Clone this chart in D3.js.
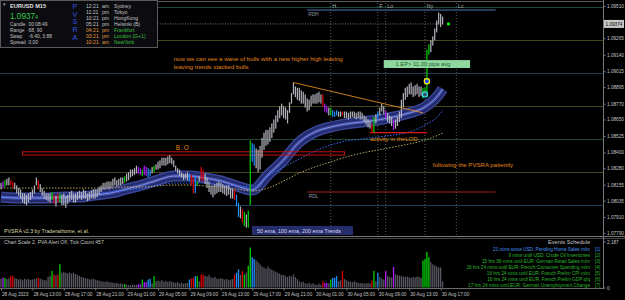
<!DOCTYPE html>
<html>
<head>
<meta charset="utf-8">
<script src="https://cdn.jsdelivr.net/npm/d3@7/dist/d3.min.js"></script>
<style>
body{margin:0;background:#000;}
svg{display:block;font-family:"Liberation Sans",Arial,sans-serif;}
</style>
</head>
<body>
<div id="container"></div>
<script>
let w=625;
let h=300;

// EURUSD M15, one entry per bar from 28 Aug 09:00 to 30 Aug 17:15
let highs=[
1.0817,1.0818,1.0819,1.0820,1.0821,1.0819,1.0818,1.0817,
1.0815,1.0813,1.0812,1.0809,1.0809,1.0808,1.0809,1.0810,
1.0812,1.0815,1.0821,1.0819,1.0816,1.0813,1.0811,1.0809,
1.0809,1.0809,1.0810,1.0808,1.0807,1.0809,1.0809,1.0808,
1.0809,1.0807,1.0808,1.0810,1.0811,1.0809,1.0809,1.0810,
1.0811,1.0810,1.0812,1.0811,1.0809,1.0810,1.0811,1.0812,
1.0812,1.0812,1.0814,1.0815,1.0817,1.0817,1.0818,1.0818,
1.0818,1.0820,1.0821,1.0819,1.0820,1.0821,1.0821,1.0822,
1.0824,1.0825,1.0827,1.0827,1.0828,1.0830,1.0829,1.0828,
1.0827,1.0830,1.0829,1.0828,1.0827,1.0829,1.0830,1.0831,
1.0833,1.0834,1.0836,1.0836,1.0836,1.0837,1.0838,1.0836,
1.0834,1.0830,1.0828,1.0827,1.0825,1.0824,1.0824,1.0825,
1.0824,1.0823,1.0821,1.0822,1.0818,1.0822,1.0829,1.0827,
1.0824,1.0821,1.0818,1.0815,1.0815,1.0816,1.0817,1.0818,
1.0817,1.0816,1.0815,1.0815,1.0815,1.0813,1.0812,1.0812,
1.0808,1.0802,1.0799,1.0797,1.0795,1.0793,1.0796,1.0849,
1.0847,1.0846,1.0843,1.0842,1.0845,1.0851,1.0855,1.0857,
1.0857,1.0859,1.0862,1.0865,1.0868,1.0872,1.0875,1.0877,
1.0875,1.0874,1.0872,1.0878,1.0885,1.0893,1.0890,1.0889,
1.0889,1.0887,1.0886,1.0884,1.0881,1.0880,1.0883,1.0884,
1.0884,1.0885,1.0886,1.0884,1.0884,1.0877,1.0875,1.0874,
1.0874,1.0872,1.0871,1.0872,1.0871,1.0871,1.0871,1.0871,
1.0871,1.0870,1.0871,1.0871,1.0871,1.0870,1.0871,1.0871,
1.0870,1.0868,1.0867,1.0865,1.0864,1.0862,1.0867,1.0869,
1.0871,1.0874,1.0877,1.0875,1.0872,1.0870,1.0868,1.0867,
1.0865,1.0865,1.0867,1.0871,1.0880,1.0885,1.0889,1.0890,
1.0892,1.0893,1.0890,1.0891,1.0892,1.0890,1.0890,1.0889,
1.0889,1.0918,1.0922,1.0925,1.0928,1.0934,1.0940,1.0946,1.0945,1.0943];
let lows=[
1.0812,1.0813,1.0814,1.0815,1.0815,1.0815,1.0813,1.0812,
1.0809,1.0807,1.0805,1.0802,1.0801,1.0800,1.0802,1.0804,
1.0806,1.0809,1.0815,1.0812,1.0810,1.0807,1.0805,1.0804,
1.0803,1.0802,1.0804,1.0801,1.0799,1.0802,1.0802,1.0800,
1.0800,1.0798,1.0801,1.0803,1.0804,1.0802,1.0802,1.0804,
1.0805,1.0804,1.0805,1.0805,1.0803,1.0804,1.0805,1.0805,
1.0805,1.0806,1.0808,1.0810,1.0812,1.0812,1.0813,1.0812,
1.0813,1.0814,1.0815,1.0814,1.0815,1.0815,1.0816,1.0817,
1.0818,1.0819,1.0821,1.0822,1.0823,1.0824,1.0824,1.0823,
1.0822,1.0823,1.0822,1.0821,1.0822,1.0824,1.0825,1.0827,
1.0827,1.0828,1.0830,1.0830,1.0830,1.0831,1.0832,1.0831,
1.0829,1.0826,1.0824,1.0822,1.0821,1.0819,1.0820,1.0819,
1.0818,1.0815,1.0809,1.0809,1.0815,1.0818,1.0819,1.0818,
1.0816,1.0813,1.0810,1.0808,1.0806,1.0808,1.0809,1.0810,
1.0810,1.0809,1.0808,1.0807,1.0808,1.0805,1.0805,1.0804,
1.0799,1.0791,1.0790,1.0787,1.0784,1.0783,1.0783,1.0800,
1.0833,1.0830,1.0828,1.0825,1.0827,1.0836,1.0842,1.0845,
1.0846,1.0848,1.0851,1.0855,1.0858,1.0863,1.0866,1.0868,
1.0866,1.0865,1.0862,1.0870,1.0877,1.0884,1.0882,1.0880,
1.0879,1.0877,1.0877,1.0874,1.0871,1.0872,1.0875,1.0877,
1.0877,1.0877,1.0878,1.0877,1.0875,1.0871,1.0870,1.0868,
1.0868,1.0867,1.0867,1.0868,1.0867,1.0867,1.0868,1.0866,
1.0866,1.0865,1.0866,1.0867,1.0866,1.0865,1.0866,1.0865,
1.0865,1.0863,1.0861,1.0859,1.0858,1.0855,1.0855,1.0862,
1.0866,1.0868,1.0871,1.0869,1.0866,1.0863,1.0862,1.0860,
1.0857,1.0858,1.0860,1.0863,1.0866,1.0874,1.0880,1.0882,
1.0884,1.0884,1.0882,1.0883,1.0884,1.0882,1.0883,1.0881,
1.0882,1.0882,1.0914,1.0916,1.0921,1.0925,1.0931,1.0937,1.0935,1.0937];
let volumes=[
420,470,450,400,430,540,560,450,
420,380,400,350,420,380,400,360,
380,400,430,460,420,380,360,340,
500,560,790,620,580,620,1110,700,
750,700,680,720,650,700,640,600,
550,500,480,450,420,400,380,420,
380,350,330,300,280,260,300,250,
250,230,200,220,180,200,170,160,
130,120,110,140,120,130,160,150,
380,260,250,380,420,200,540,300,
330,300,350,280,320,260,300,280,
250,220,260,200,230,180,200,220,
380,420,460,540,540,300,620,620,
560,520,600,480,450,500,420,400,
450,420,380,400,350,380,400,620,
700,870,600,790,620,700,1030,1900,
1440,1360,1280,1200,1100,1000,950,900,
1000,900,850,800,750,700,650,600,
600,550,500,560,520,620,500,400,
300,250,280,200,180,220,150,200,
150,120,180,130,300,220,220,200,
380,460,460,540,300,350,790,400,
350,300,280,250,300,260,220,200,
220,180,200,210,190,330,790,300,
700,500,420,380,790,560,500,480,
980,620,600,560,540,520,500,520,
480,460,500,480,520,500,460,1280,
1360,1690,1440,1200,1100,1050,1000,950,950,290];

// PVSRA bar classes (bar index)
let climaxBull=[2,26,30,63,72,78,100,124,126,127,168,190,215,216,217,218];
let climaxBear=[5,6,19,27,29,97,98,102,103,119,123,164,174,189];
let risingBull=[75,76,96,99,120,121,128,129,169,170,171,192];
let risingBear=[1,70,71,73,74,165,166,196,200];

// moving averages read every 8 bars
let emaAt=[0,8,16,24,32,40,48,56,64,72,80,88,96,104,112,120,128,136,144,152,160,168,176,184,192,200,208,216,224,225];
let ema50=[1.08062,1.08055,1.08055,1.08055,1.08062,1.08062,1.08077,1.08093,1.08123,1.08153,1.08191,1.08221,1.08221,1.08206,1.08184,1.08146,1.08115,1.08229,1.08343,1.08479,1.08555,1.08593,1.08616,1.08631,1.08646,1.08669,1.08699,1.08744,1.08858,1.08881];
let ema100=[1.08062,1.08062,1.08062,1.08062,1.08070,1.08077,1.08085,1.08100,1.08115,1.08130,1.08153,1.08168,1.08168,1.08168,1.08153,1.08146,1.08138,1.08221,1.08290,1.08350,1.08411,1.08456,1.08487,1.08502,1.08517,1.08532,1.08555,1.08608,1.08699,1.08722];
let ema200=[1.08130,1.08130,1.08130,1.08130,1.08130,1.08130,1.08130,1.08130,1.08138,1.08138,1.08146,1.08153,1.08153,1.08146,1.08138,1.08123,1.08108,1.08130,1.08184,1.08244,1.08290,1.08328,1.08366,1.08396,1.08418,1.08441,1.08464,1.08494,1.08540,1.08547];

let priceTicks=[1.09510,1.09265,1.09140,1.09015,1.08895,1.08770,1.08650,1.08525,1.08400,1.08280,1.08155,1.08035,1.07910,1.07790];
let levels=[1.0950,1.0925,1.0900,1.0875,1.0850,1.0825,1.0800];
let timeIdx=[0,16,32,48,64,80,96,112,128,144,160,176,192,208,224];
let timeLabels=["28 Aug 2023","28 Aug 13:00","28 Aug 17:00","28 Aug 21:00","29 Aug 01:00","29 Aug 05:00","29 Aug 09:00","29 Aug 13:00","29 Aug 17:00","29 Aug 21:00","30 Aug 01:00","30 Aug 05:00","30 Aug 09:00","30 Aug 13:00","30 Aug 17:00"];
let sessions=[["H",168],["F",192],["Lo",196],["Ny",216],["Lc",232]];
let lastPrice=1.09374;
let volMax=2187;
let rdh=1.0948, rdl=1.0810, rdFrom=156, rdTo=252;
let lod=1.0855, lodFrom=188, lodTo=217;
let boBox=[11,175,1.08405,1.08380];
let trend=[[149,1.0893],[215,1.0870]];
let entryMarks=[[216,1.0884,"#30e0f0","#405060"],[217,1.0894,"#ffff00","#2040ff"]];
let notes=[
 [88,1.09093,"now we can see a wave of bulls with a new higher high leaving"],
 [88,1.09032,"leaving trends stacked bulls"],
 [188,1.08483,"activity in theLOD"],
 [220,1.08290,"following the PVSRA patiently"]];
let clocks=[["12:21","am","Sydney"],["11:21","pm","Tokyo"],["10:21","pm","HongKong"],["05:21","pm","Helsinki (B)"],["04:21","pm","Frankfurt"],["03:21","pm","London (G+1)"],["10:21","am","NewYork"]];
let infoRows=[["Candle","00:08:49"],["Range","68, 90"],["Swap","-6.40, 3.88"],["Spread","0.00"]];
let events=[
 "21 mins since USD: Pending Home Sales m/m",
 "9 mins until USD: Crude Oil Inventories",
 "15 hrs 39 mins until EUR: German Retail Sales m/m",
 "16 hrs 24 mins until EUR: French Consumer Spending m/m",
 "16 hrs 24 mins until EUR: French Prelim CPI m/m",
 "16 hrs 24 mins until EUR: French Prelim GDP q/q",
 "17 hrs 24 mins until EUR: German Unemployment Change"];

let x=d3.scaleLinear().domain([0,225]).range([1,442.6]);
let y=d3.scaleLinear().domain([1.0779,1.0951]).range([232.9,6]);
let yv=d3.scaleLinear().domain([0,volMax]).range([287.5,241.5]);

function barColor(i,normal){
  if(climaxBull.includes(i)) return "#00d000";
  if(climaxBear.includes(i)) return "#e00000";
  if(risingBull.includes(i)) return "#1e90ff";
  if(risingBear.includes(i)) return "#b020ff";
  return normal;
}
function levelColor(d){
  let q=Math.round(d*10000)%100;
  if(q==0) return "#1e3a58";
  if(q==50) return "#1f4a36";
  return "#48461e";
}

let viz=d3.select("#container").append("svg")
  .attr("width",w).attr("height",h);
viz.append("rect").attr("width",w).attr("height",h).attr("fill","#000");

// quarter levels
viz.selectAll(".level").data(levels).enter().append("line")
  .attr("x1",0).attr("x2",603)
  .attr("y1",d=>y(d)).attr("y2",d=>y(d))
  .attr("stroke",levelColor).attr("shape-rendering","crispEdges");
viz.append("line").attr("x1",0).attr("x2",603).attr("y1",1.5).attr("y2",1.5)
  .attr("stroke","#5a5a5a");

// session lines
viz.selectAll(".sess").data(sessions).enter().append("line")
  .attr("x1",d=>x(d[1])).attr("x2",d=>x(d[1]))
  .attr("y1",3).attr("y2",236)
  .attr("stroke","#5c5c5c").attr("stroke-dasharray","1,2");
viz.selectAll(".sessLabel").data(sessions).enter().append("text")
  .text(d=>d[0])
  .attr("x",d=>x(d[1])+1.5).attr("y",7.5)
  .attr("font-size",5.5).attr("fill","#a8a8a8");

// RDH / RDL
viz.append("line").attr("x1",x(rdFrom)).attr("x2",x(rdTo)).attr("y1",y(rdh)).attr("y2",y(rdh))
  .attr("stroke","#34507a").attr("stroke-width",1.5);
viz.append("text").text("RDH").attr("x",x(rdFrom)+1).attr("y",y(rdh)+6)
  .attr("font-size",4.8).attr("fill","#9098a0");
viz.append("line").attr("x1",x(rdFrom)).attr("x2",x(rdTo)).attr("y1",y(rdl)).attr("y2",y(rdl))
  .attr("stroke","#9a2424").attr("stroke-width",1);
viz.append("text").text("RDL").attr("x",x(rdFrom)+1.5).attr("y",y(rdl)+5.5)
  .attr("font-size",4.8).attr("fill","#9098a0");

// ema ribbon
let maLine=d3.line().x(d=>x(d[0])).y(d=>y(d[1])).curve(d3.curveMonotoneX);
let e50=d3.zip(emaAt,ema50);
viz.append("path").attr("d",maLine(e50)).attr("fill","none")
  .attr("stroke","#3a4698").attr("stroke-width",11);
viz.append("path").attr("d",maLine(e50)).attr("fill","none")
  .attr("stroke","#222a6a").attr("stroke-width",8);
viz.append("path").attr("d",maLine(e50)).attr("fill","none")
  .attr("stroke","#3c4aa4").attr("stroke-width",3.5);
viz.append("path").attr("d",maLine(e50)).attr("fill","none")
  .attr("stroke","#a8b0f0").attr("stroke-width",0.7);
viz.append("path").attr("d",maLine(d3.zip(emaAt,ema100))).attr("fill","none")
  .attr("stroke","#3c6cff").attr("stroke-width",1).attr("stroke-dasharray","1.5,1.5");
viz.append("path").attr("d",maLine(d3.zip(emaAt,ema200))).attr("fill","none")
  .attr("stroke","#b8a860").attr("stroke-width",1).attr("stroke-dasharray","1.5,1.5");

// B.O zone
viz.append("rect")
  .attr("x",x(boBox[0])).attr("y",y(boBox[2]))
  .attr("width",x(boBox[1])-x(boBox[0])).attr("height",y(boBox[3])-y(boBox[2]))
  .attr("fill","none").attr("stroke","#c81010").attr("stroke-width",1);
viz.append("text").text("B.O").attr("x",x(89)).attr("y",y(1.08418))
  .attr("font-size",6.5).attr("letter-spacing",1).attr("fill","#e0851a");

// LOD line
viz.append("line").attr("x1",x(lodFrom)).attr("x2",x(lodTo)).attr("y1",y(lod)).attr("y2",y(lod))
  .attr("stroke","#e01818").attr("stroke-width",1.3);

// bid line
viz.append("line").attr("x1",0).attr("x2",x(225)).attr("y1",y(lastPrice)).attr("y2",y(lastPrice))
  .attr("stroke","#7a7a7a").attr("stroke-dasharray","1,1.5");

// candles
viz.selectAll(".bar").data(highs).enter().append("rect")
  .attr("class","bar")
  .attr("x",(d,i)=>x(i)-0.6).attr("width",1.2)
  .attr("y",d=>y(d))
  .attr("height",(d,i)=>Math.max(1,y(lows[i])-y(d)))
  .attr("fill",(d,i)=>barColor(i,"#b4b4be"));

// trend line
viz.append("line")
  .attr("x1",x(trend[0][0])).attr("y1",y(trend[0][1]))
  .attr("x2",x(trend[1][0])).attr("y2",y(trend[1][1]))
  .attr("stroke","#e08a20").attr("stroke-width",0.9);

viz.selectAll(".mark").data(entryMarks).enter().append("circle")
  .attr("cx",d=>x(d[0])).attr("cy",d=>y(d[1])).attr("r",2.6)
  .attr("fill",d=>d[3]).attr("stroke",d=>d[2]).attr("stroke-width",1.2);
viz.append("circle").attr("cx",x(228)).attr("cy",y(lastPrice)).attr("r",1.6).attr("fill","#00ff00");

// notes
viz.selectAll(".note").data(notes).enter().append("text")
  .text(d=>d[2]).attr("x",d=>x(d[0])).attr("y",d=>y(d[1]))
  .attr("font-size",6.1).attr("fill","#e0851a");

viz.append("rect").attr("x",x(195)).attr("y",y(1.09100)).attr("width",x(239)-x(195)).attr("height",y(1.09040)-y(1.09100))
  .attr("fill","#8ed8a0");
viz.append("text").text("1 EP> 11.00 pips avg").attr("x",(x(195)+x(239))/2-4).attr("y",y(1.09040)-1.6)
  .attr("text-anchor","middle").attr("font-size",5.8).attr("fill","#1a5a28");

viz.append("text").text("PVSRA  v2.3  by  Traderathome,  et al.").attr("x",4).attr("y",232.5)
  .attr("font-size",5.3).attr("fill","#ddd6a4");
viz.append("rect").attr("x",252).attr("y",226).attr("width",101).attr("height",9).attr("fill","#262d6c");
viz.append("text").text("50  ema,  100  ema,  200  ema  Trends").attr("x",257).attr("y",232.8)
  .attr("font-size",5.4).attr("fill","#d8d8f0");

// info panel
let info=viz.append("g");
info.append("rect").attr("x",0.5).attr("y",0.5).attr("width",157).attr("height",47)
  .attr("fill","#0b0b10").attr("stroke","#5a5a5a");
info.append("text").text("\u25BC").attr("x",2).attr("y",6).attr("font-size",4.5).attr("fill","#a0a0a0");
info.append("text").text("EURUSD  M15").attr("x",10).attr("y",8.2)
  .attr("font-size",5.6).attr("font-weight","bold").attr("fill","#e0e0e0");
let pt=info.append("text").attr("x",10).attr("y",18.6).attr("fill","#34c844");
pt.append("tspan").text(lastPrice.toFixed(5).slice(0,6)).attr("font-size",8.2);
pt.append("tspan").text(lastPrice.toFixed(5).slice(6)).attr("font-size",5.6);
info.selectAll(".irow").data(infoRows).enter().append("text")
  .text(d=>d[0]).attr("x",10).attr("y",(d,i)=>26.2+i*5.9)
  .attr("font-size",4.9).attr("fill","#c4c4c4");
info.selectAll(".ival").data(infoRows).enter().append("text")
  .text(d=>d[1]).attr("x",28.5).attr("y",(d,i)=>26.2+i*5.9)
  .attr("font-size",4.9).attr("fill","#c4c4c4");
info.selectAll(".pv").data("PVSRA".split("")).enter().append("text")
  .text(d=>d).attr("x",75).attr("y",(d,i)=>8.6+i*7.9)
  .attr("text-anchor","middle").attr("font-size",7.2).attr("fill","#3454e4");
info.selectAll(".ct").data(clocks).enter().append("text")
  .text(d=>d[0]).attr("x",86).attr("y",(d,i)=>7.9+i*6)
  .attr("font-size",5.1).attr("fill",(d,i)=>i>3?"#e09a3a":"#c4c4c4");
info.selectAll(".ca").data(clocks).enter().append("text")
  .text(d=>d[1]).attr("x",102).attr("y",(d,i)=>7.9+i*6)
  .attr("font-size",5.1).attr("fill",(d,i)=>i>3?"#e09a3a":"#c4c4c4");
info.selectAll(".cc").data(clocks).enter().append("text")
  .text(d=>d[2]).attr("x",114).attr("y",(d,i)=>7.9+i*6)
  .attr("font-size",5.1).attr("fill",(d,i)=>i>3?"#3cc03c":"#c4c4c4");

// volume panel
viz.append("line").attr("x1",0).attr("x2",625).attr("y1",236.5).attr("y2",236.5).attr("stroke","#7a7a7a");
viz.append("line").attr("x1",0).attr("x2",625).attr("y1",238.5).attr("y2",238.5).attr("stroke","#444");
viz.append("line").attr("x1",0).attr("x2",603).attr("y1",288.5).attr("y2",288.5).attr("stroke","#6a6a6a");
viz.selectAll(".vol").data(volumes).enter().append("rect")
  .attr("x",(d,i)=>x(i)-0.65).attr("width",1.3)
  .attr("y",d=>yv(d)).attr("height",d=>yv(0)-yv(d))
  .attr("fill",(d,i)=>barColor(i,"#585862"));
viz.append("text").text("Chart Scale  2,   PVA Alert Off,   Tick Count  457").attr("x",4).attr("y",244)
  .attr("font-size",5.1).attr("fill","#c4c4c4");
viz.append("text").text("Events Schedule").attr("x",590).attr("y",244).attr("text-anchor","end")
  .attr("font-size",5.6).attr("fill","#c4c4c4");
viz.selectAll(".ev").data(events).enter().append("text")
  .text(d=>d).attr("x",590).attr("y",(d,i)=>250.7+i*6)
  .attr("text-anchor","end").attr("font-size",4.7)
  .attr("fill",(d,i)=>i==0?"#4a96f0":"#2eb82e");
viz.selectAll(".evn").data(events).enter().append("text")
  .text((d,i)=>"["+(i+1)+"]").attr("x",595).attr("y",(d,i)=>250.7+i*6)
  .attr("font-size",4.7).attr("fill",(d,i)=>i==0?"#4a96f0":"#2eb82e");

// axes
viz.append("line").attr("x1",603.5).attr("x2",603.5).attr("y1",0).attr("y2",289).attr("stroke","#7a7a7a");
let ax=viz.append("g").attr("transform","translate(603.5,0)")
  .call(d3.axisRight(y).tickValues(priceTicks).tickSize(2).tickPadding(1.5).tickFormat(d3.format(".5f")));
let avx=viz.append("g").attr("transform","translate(603.5,0)")
  .call(d3.axisRight(yv).tickValues([0,volMax]).tickSize(2).tickPadding(1.5));
let bx=viz.append("g").attr("transform","translate(0,288.5)")
  .call(d3.axisBottom(x).tickValues(timeIdx).tickSize(2).tickPadding(2).tickFormat((d,k)=>timeLabels[k]));
[ax,avx,bx].forEach(function(g){
  g.select(".domain").remove();
  g.selectAll("line").attr("stroke","#7a7a7a");
  g.selectAll("text").attr("fill","#c4c4c4").attr("font-size",4.7).attr("font-family","Liberation Sans, Arial, sans-serif");
});
bx.selectAll("text").attr("text-anchor","start").attr("dx",0.5);

// current price tag
viz.append("rect").attr("x",604).attr("y",y(lastPrice)-4).attr("width",20).attr("height",8).attr("fill","#c8c8c8");
viz.append("text").text(lastPrice.toFixed(5)).attr("x",605.5).attr("y",y(lastPrice)+1.7)
  .attr("font-size",4.7).attr("fill","#000");
</script>
</body>
</html>
